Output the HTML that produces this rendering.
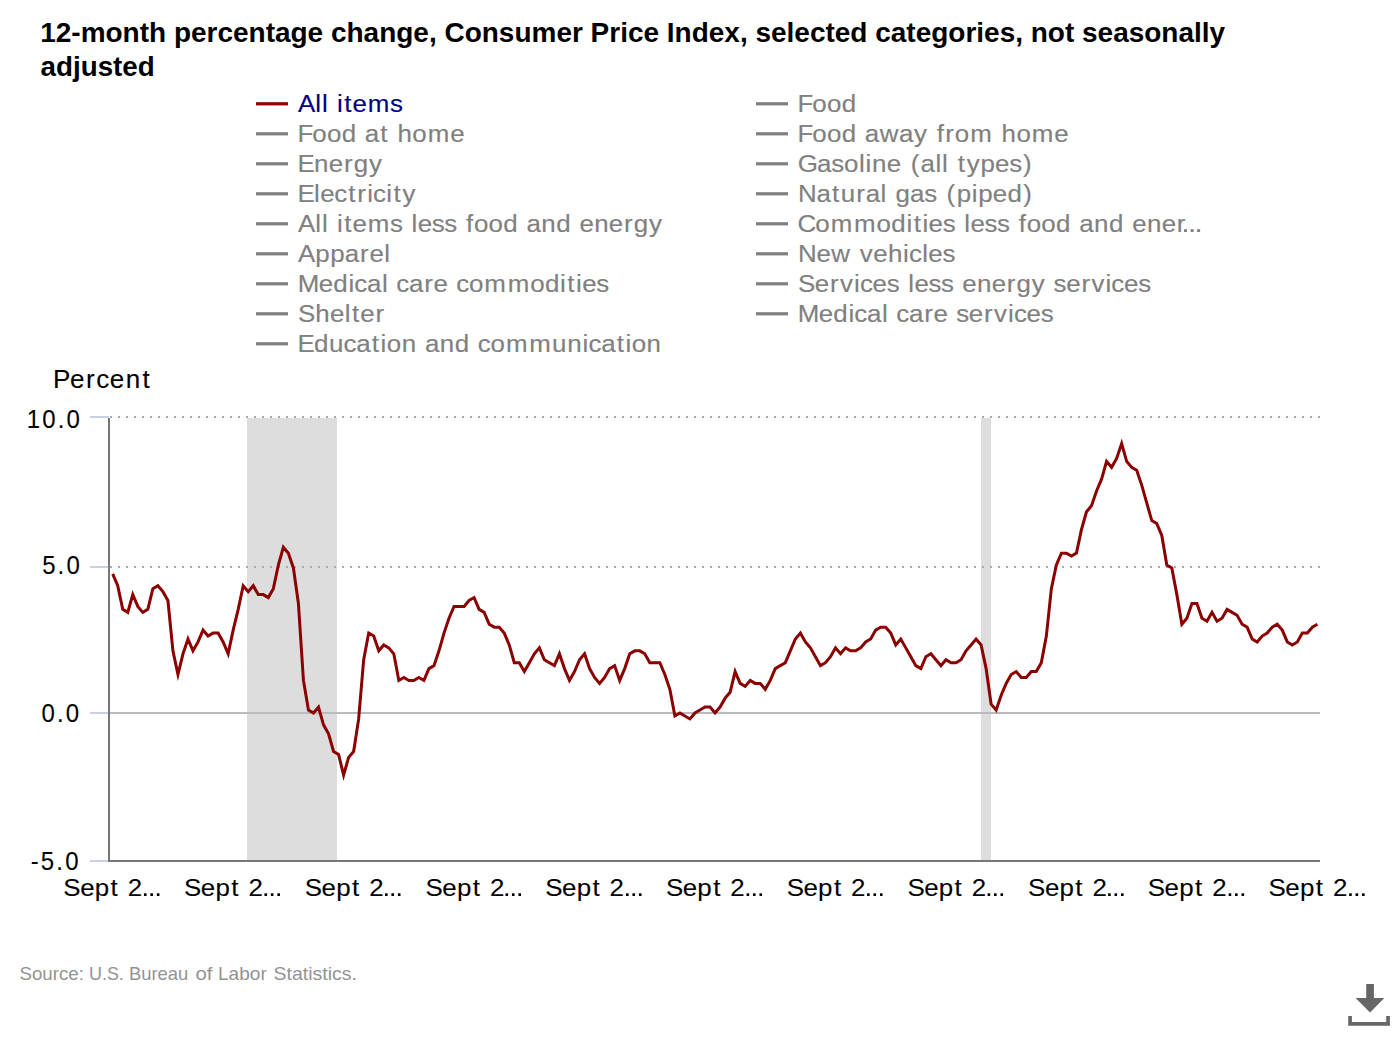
<!DOCTYPE html>
<html><head><meta charset="utf-8"><title>CPI chart</title>
<style>
html,body{margin:0;padding:0;background:#ffffff;width:1400px;height:1040px;overflow:hidden}
svg{position:absolute;left:0;top:0;display:block}
text{font-family:"Liberation Sans",sans-serif;white-space:pre}
</style></head><body>
<svg width="1400" height="1040" viewBox="0 0 1400 1040">
<rect x="256" y="102.2" width="32" height="3.2" fill="#8b0000"/>
<rect x="756" y="102.2" width="32" height="3.2" fill="#808080"/>
<rect x="256" y="132.2" width="32" height="3.2" fill="#808080"/>
<rect x="756" y="132.2" width="32" height="3.2" fill="#808080"/>
<rect x="256" y="162.2" width="32" height="3.2" fill="#808080"/>
<rect x="756" y="162.2" width="32" height="3.2" fill="#808080"/>
<rect x="256" y="192.2" width="32" height="3.2" fill="#808080"/>
<rect x="756" y="192.2" width="32" height="3.2" fill="#808080"/>
<rect x="256" y="222.2" width="32" height="3.2" fill="#808080"/>
<rect x="756" y="222.2" width="32" height="3.2" fill="#808080"/>
<rect x="256" y="252.2" width="32" height="3.2" fill="#808080"/>
<rect x="756" y="252.2" width="32" height="3.2" fill="#808080"/>
<rect x="256" y="282.2" width="32" height="3.2" fill="#808080"/>
<rect x="756" y="282.2" width="32" height="3.2" fill="#808080"/>
<rect x="256" y="312.2" width="32" height="3.2" fill="#808080"/>
<rect x="756" y="312.2" width="32" height="3.2" fill="#808080"/>
<rect x="256" y="342.2" width="32" height="3.2" fill="#808080"/>
<rect x="143.95" y="893.3" width="2.6" height="2.7" fill="#000"/>
<rect x="150.35" y="893.3" width="2.6" height="2.7" fill="#000"/>
<rect x="156.85" y="893.3" width="2.6" height="2.7" fill="#000"/>
<rect x="264.47" y="893.3" width="2.6" height="2.7" fill="#000"/>
<rect x="270.87" y="893.3" width="2.6" height="2.7" fill="#000"/>
<rect x="277.37" y="893.3" width="2.6" height="2.7" fill="#000"/>
<rect x="384.99" y="893.3" width="2.6" height="2.7" fill="#000"/>
<rect x="391.39" y="893.3" width="2.6" height="2.7" fill="#000"/>
<rect x="397.89" y="893.3" width="2.6" height="2.7" fill="#000"/>
<rect x="505.51" y="893.3" width="2.6" height="2.7" fill="#000"/>
<rect x="511.91" y="893.3" width="2.6" height="2.7" fill="#000"/>
<rect x="518.41" y="893.3" width="2.6" height="2.7" fill="#000"/>
<rect x="626.03" y="893.3" width="2.6" height="2.7" fill="#000"/>
<rect x="632.43" y="893.3" width="2.6" height="2.7" fill="#000"/>
<rect x="638.93" y="893.3" width="2.6" height="2.7" fill="#000"/>
<rect x="746.55" y="893.3" width="2.6" height="2.7" fill="#000"/>
<rect x="752.95" y="893.3" width="2.6" height="2.7" fill="#000"/>
<rect x="759.45" y="893.3" width="2.6" height="2.7" fill="#000"/>
<rect x="867.07" y="893.3" width="2.6" height="2.7" fill="#000"/>
<rect x="873.47" y="893.3" width="2.6" height="2.7" fill="#000"/>
<rect x="879.97" y="893.3" width="2.6" height="2.7" fill="#000"/>
<rect x="987.59" y="893.3" width="2.6" height="2.7" fill="#000"/>
<rect x="993.99" y="893.3" width="2.6" height="2.7" fill="#000"/>
<rect x="1000.49" y="893.3" width="2.6" height="2.7" fill="#000"/>
<rect x="1108.11" y="893.3" width="2.6" height="2.7" fill="#000"/>
<rect x="1114.51" y="893.3" width="2.6" height="2.7" fill="#000"/>
<rect x="1121.01" y="893.3" width="2.6" height="2.7" fill="#000"/>
<rect x="1228.63" y="893.3" width="2.6" height="2.7" fill="#000"/>
<rect x="1235.03" y="893.3" width="2.6" height="2.7" fill="#000"/>
<rect x="1241.53" y="893.3" width="2.6" height="2.7" fill="#000"/>
<rect x="1349.15" y="893.3" width="2.6" height="2.7" fill="#000"/>
<rect x="1355.55" y="893.3" width="2.6" height="2.7" fill="#000"/>
<rect x="1362.05" y="893.3" width="2.6" height="2.7" fill="#000"/>
<rect x="1184" y="229.2" width="3" height="2.8" fill="#808080"/>
<rect x="1190.6" y="229.2" width="3" height="2.8" fill="#808080"/>
<rect x="1197.1" y="229.2" width="3" height="2.8" fill="#808080"/>
<rect x="247" y="418" width="90" height="442" fill="#dddddd"/>
<rect x="981" y="418" width="10" height="442" fill="#dddddd"/>
<rect x="90" y="416" width="19" height="2" fill="#c5d1e7"/>
<rect x="90" y="566" width="19" height="2" fill="#c5d1e7"/>
<rect x="90" y="712" width="19" height="2" fill="#c5d1e7"/>
<rect x="90" y="860" width="19" height="2" fill="#c5d1e7"/>
<line x1="110" y1="417" x2="1321" y2="417" stroke="#aaaaaa" stroke-width="2" stroke-dasharray="2 6"/>
<line x1="110" y1="567" x2="1321" y2="567" stroke="#aaaaaa" stroke-width="2" stroke-dasharray="2 6"/>
<rect x="110" y="712" width="1210" height="2" fill="#bbbbbb"/>
<rect x="108" y="418" width="2" height="444" fill="#777777"/>
<rect x="108" y="860" width="1212" height="2" fill="#777777"/>
<polyline points="112.70,573.88 117.72,585.72 122.74,609.40 127.76,612.36 132.78,594.60 137.80,606.44 142.82,612.36 147.84,609.40 152.86,588.68 157.88,585.72 162.90,591.64 167.92,600.52 172.94,650.84 177.95,674.52 182.97,653.80 187.99,639.00 193.01,650.84 198.03,641.96 203.05,630.12 208.07,636.04 213.09,633.08 218.11,633.08 223.13,641.96 228.15,653.80 233.17,630.12 238.19,609.40 243.21,585.72 248.23,591.64 253.25,585.72 258.27,594.60 263.29,594.60 268.31,597.56 273.33,588.68 278.35,565.00 283.37,547.24 288.39,553.16 293.40,567.96 298.42,603.48 303.44,680.44 308.46,710.04 313.48,713.00 318.50,707.08 323.52,724.84 328.54,733.72 333.56,751.48 338.58,754.44 343.60,775.16 348.62,757.40 353.64,751.48 358.66,718.92 363.68,659.72 368.70,633.08 373.72,636.04 378.74,650.84 383.76,644.92 388.78,647.88 393.80,653.80 398.82,680.44 403.84,677.48 408.86,680.44 413.88,680.44 418.89,677.48 423.91,680.44 428.93,668.60 433.95,665.64 438.97,650.84 443.99,633.08 449.01,618.28 454.03,606.44 459.05,606.44 464.07,606.44 469.09,600.52 474.11,597.56 479.13,609.40 484.15,612.36 489.17,624.20 494.19,627.16 499.21,627.16 504.23,633.08 509.25,644.92 514.27,662.68 519.29,662.68 524.31,671.56 529.33,662.68 534.35,653.80 539.36,647.88 544.38,659.72 549.40,662.68 554.42,665.64 559.44,653.80 564.46,668.60 569.48,680.44 574.50,671.56 579.52,659.72 584.54,653.80 589.56,668.60 594.58,677.48 599.60,683.40 604.62,677.48 609.64,668.60 614.66,665.64 619.68,680.44 624.70,668.60 629.72,653.80 634.74,650.84 639.76,650.84 644.78,653.80 649.80,662.68 654.82,662.68 659.83,662.68 664.85,674.52 669.87,689.32 674.89,715.96 679.91,713.00 684.93,715.96 689.95,718.92 694.97,713.00 699.99,710.04 705.01,707.08 710.03,707.08 715.05,713.00 720.07,707.08 725.09,698.20 730.11,692.28 735.13,671.56 740.15,683.40 745.17,686.36 750.19,680.44 755.21,683.40 760.23,683.40 765.25,689.32 770.27,680.44 775.29,668.60 780.30,665.64 785.32,662.68 790.34,650.84 795.36,639.00 800.38,633.08 805.40,641.96 810.42,647.88 815.44,656.76 820.46,665.64 825.48,662.68 830.50,656.76 835.52,647.88 840.54,653.80 845.56,647.88 850.58,650.84 855.60,650.84 860.62,647.88 865.64,641.96 870.66,639.00 875.68,630.12 880.70,627.16 885.72,627.16 890.74,633.08 895.75,644.92 900.77,639.00 905.79,647.88 910.81,656.76 915.83,665.64 920.85,668.60 925.87,656.76 930.89,653.80 935.91,659.72 940.93,665.64 945.95,659.72 950.97,662.68 955.99,662.68 961.01,659.72 966.03,650.84 971.05,644.92 976.07,639.00 981.09,644.92 986.11,668.60 991.13,704.12 996.15,710.04 1001.17,695.24 1006.19,683.40 1011.21,674.52 1016.23,671.56 1021.24,677.48 1026.26,677.48 1031.28,671.56 1036.30,671.56 1041.32,662.68 1046.34,636.04 1051.36,588.68 1056.38,565.00 1061.40,553.16 1066.42,553.16 1071.44,556.12 1076.46,553.16 1081.48,529.48 1086.50,511.72 1091.52,505.80 1096.54,491.00 1101.56,479.16 1106.58,461.40 1111.60,467.32 1116.62,458.44 1121.64,443.64 1126.66,461.40 1131.68,467.32 1136.69,470.28 1141.71,485.08 1146.73,502.84 1151.75,520.60 1156.77,523.56 1161.79,535.40 1166.81,565.00 1171.83,567.96 1176.85,594.60 1181.87,624.20 1186.89,618.28 1191.91,603.48 1196.93,603.48 1201.95,618.28 1206.97,621.24 1211.99,612.36 1217.01,621.24 1222.03,618.28 1227.05,609.40 1232.07,612.36 1237.09,615.32 1242.11,624.20 1247.13,627.16 1252.15,639.00 1257.16,641.96 1262.18,636.04 1267.20,633.08 1272.22,627.16 1277.24,624.20 1282.26,630.12 1287.28,641.96 1292.30,644.92 1297.32,641.96 1302.34,633.08 1307.36,633.08 1312.38,627.16 1317.40,624.20" fill="none" stroke="#8b0000" stroke-width="3" stroke-linejoin="miter" stroke-miterlimit="10"/>
<text x="40.20" y="42" font-size="28" fill="#000" font-weight="bold" textLength="1184.94" lengthAdjust="spacingAndGlyphs">12-month percentage change, Consumer Price Index, selected categories, not seasonally</text>
<text x="40.60" y="76" font-size="28" fill="#000" font-weight="bold" textLength="114.16" lengthAdjust="spacingAndGlyphs">adjusted</text>
<g transform="translate(54.00,0) scale(1.0,1) translate(-54.00,0)"><text x="53.11 70.01 86.10 96.16 109.83 125.68 142.55" y="388" font-size="26" fill="#000" stroke="#000" stroke-width="0.1">Percent</text></g>
<g transform="translate(25.80,0) scale(0.96,1) translate(-25.80,0)"><text x="26.89 42.99 59.12 68.29" y="428" font-size="25" fill="#000" stroke="#000" stroke-width="0.1">10.0</text></g>
<g transform="translate(41.10,0) scale(0.96,1) translate(-41.10,0)"><text x="42.19 58.32 67.49" y="574" font-size="25" fill="#000" stroke="#000" stroke-width="0.1">5.0</text></g>
<g transform="translate(40.50,0) scale(0.96,1) translate(-40.50,0)"><text x="41.59 57.72 66.89" y="722" font-size="25" fill="#000" stroke="#000" stroke-width="0.1">0.0</text></g>
<g transform="translate(29.60,0) scale(0.96,1) translate(-29.60,0)"><text x="30.76 41.34 57.46 66.64" y="870" font-size="25" fill="#000" stroke="#000" stroke-width="0.1">-5.0</text></g>
<g transform="translate(63.80,0) scale(1.08,1) translate(-63.80,0)"><text x="63.39 78.93 92.47 107.11 115.39 123.02" y="896" font-size="24" fill="#000" stroke="#000" stroke-width="0.1">Sept 2</text></g>
<g transform="translate(184.52,0) scale(1.08,1) translate(-184.52,0)"><text x="184.11 199.65 213.19 227.83 236.11 243.74" y="896" font-size="24" fill="#000" stroke="#000" stroke-width="0.1">Sept 2</text></g>
<g transform="translate(305.24,0) scale(1.08,1) translate(-305.24,0)"><text x="304.83 320.37 333.91 348.55 356.83 364.46" y="896" font-size="24" fill="#000" stroke="#000" stroke-width="0.1">Sept 2</text></g>
<g transform="translate(425.96,0) scale(1.08,1) translate(-425.96,0)"><text x="425.55 441.09 454.63 469.27 477.55 485.18" y="896" font-size="24" fill="#000" stroke="#000" stroke-width="0.1">Sept 2</text></g>
<g transform="translate(545.68,0) scale(1.08,1) translate(-545.68,0)"><text x="545.27 560.81 574.35 588.99 597.27 604.90" y="896" font-size="24" fill="#000" stroke="#000" stroke-width="0.1">Sept 2</text></g>
<g transform="translate(666.40,0) scale(1.08,1) translate(-666.40,0)"><text x="665.99 681.53 695.07 709.71 717.99 725.62" y="896" font-size="24" fill="#000" stroke="#000" stroke-width="0.1">Sept 2</text></g>
<g transform="translate(787.12,0) scale(1.08,1) translate(-787.12,0)"><text x="786.71 802.25 815.79 830.43 838.71 846.34" y="896" font-size="24" fill="#000" stroke="#000" stroke-width="0.1">Sept 2</text></g>
<g transform="translate(907.84,0) scale(1.08,1) translate(-907.84,0)"><text x="907.43 922.97 936.51 951.15 959.43 967.06" y="896" font-size="24" fill="#000" stroke="#000" stroke-width="0.1">Sept 2</text></g>
<g transform="translate(1028.56,0) scale(1.08,1) translate(-1028.56,0)"><text x="1028.15 1043.69 1057.23 1071.87 1080.15 1087.78" y="896" font-size="24" fill="#000" stroke="#000" stroke-width="0.1">Sept 2</text></g>
<g transform="translate(1148.28,0) scale(1.08,1) translate(-1148.28,0)"><text x="1147.87 1163.41 1176.95 1191.59 1199.87 1207.50" y="896" font-size="24" fill="#000" stroke="#000" stroke-width="0.1">Sept 2</text></g>
<g transform="translate(1269.00,0) scale(1.08,1) translate(-1269.00,0)"><text x="1268.59 1284.13 1297.67 1312.31 1320.59 1328.22" y="896" font-size="24" fill="#000" stroke="#000" stroke-width="0.1">Sept 2</text></g>
<text x="19.50" y="980" font-size="18.2" fill="#939393" textLength="64.36" lengthAdjust="spacingAndGlyphs">Source:</text>
<text x="89.00" y="980" font-size="18.2" fill="#939393" textLength="34.85" lengthAdjust="spacingAndGlyphs">U.S.</text>
<text x="129.00" y="980" font-size="18.2" fill="#939393" textLength="59.28" lengthAdjust="spacingAndGlyphs">Bureau</text>
<text x="195.50" y="980" font-size="18.2" fill="#939393" textLength="17.01" lengthAdjust="spacingAndGlyphs">of</text>
<text x="218.00" y="980" font-size="18.2" fill="#939393" textLength="48.79" lengthAdjust="spacingAndGlyphs">Labor</text>
<text x="273.50" y="980" font-size="18.2" fill="#939393" textLength="83.38" lengthAdjust="spacingAndGlyphs">Statistics.</text>
<g transform="translate(298.50,0) scale(1.08,1) translate(-298.50,0)"><text x="298.10 314.08 320.18 326.47 334.09 340.85 348.51 362.61 383.21" y="112" font-size="24" fill="#000080" stroke="#000080" stroke-width="0.15">All items</text></g>
<g transform="translate(798.50,0) scale(1.08,1) translate(-798.50,0)"><text x="797.56 811.35 824.84 838.51" y="112" font-size="24" fill="#808080" stroke="#808080" stroke-width="0.15">Food</text></g>
<g transform="translate(298.50,0) scale(1.08,1) translate(-298.50,0)"><text x="297.56 311.35 324.84 338.51 352.67 359.91 374.29 382.58 390.18 403.95 418.18 438.93" y="142" font-size="24" fill="#808080" stroke="#808080" stroke-width="0.15">Food at home</text></g>
<g transform="translate(798.50,0) scale(1.08,1) translate(-798.50,0)"><text x="797.56 811.35 824.84 838.51 852.67 859.91 873.77 891.63 905.52 918.65 926.48 934.48 943.29 957.51 978.89 986.49 1000.26 1014.49 1035.24" y="142" font-size="24" fill="#808080" stroke="#808080" stroke-width="0.15">Food away from home</text></g>
<g transform="translate(298.50,0) scale(1.08,1) translate(-298.50,0)"><text x="297.53 312.92 326.57 340.61 349.60 363.75" y="172" font-size="24" fill="#808080" stroke="#808080" stroke-width="0.15">Energy</text></g>
<g transform="translate(798.50,0) scale(1.08,1) translate(-798.50,0)"><text x="797.78 815.71 828.84 840.70 854.50 860.60 866.67 880.32 894.19 902.48 911.53 925.25 931.35 937.64 945.92 954.19 966.99 980.53 993.61 1006.46" y="172" font-size="24" fill="#808080" stroke="#808080" stroke-width="0.15">Gasoline (all types)</text></g>
<g transform="translate(298.50,0) scale(1.08,1) translate(-298.50,0)"><text x="297.53 312.95 318.61 331.69 344.52 352.98 362.10 367.60 379.77 386.53 394.80" y="202" font-size="24" fill="#808080" stroke="#808080" stroke-width="0.15">Electricity</text></g>
<g transform="translate(798.50,0) scale(1.08,1) translate(-798.50,0)"><text x="798.15 815.12 829.50 837.57 852.02 860.76 874.48 880.77 888.26 901.85 914.98 927.34 935.63 944.93 958.91 964.87 978.41 991.96 1006.61" y="202" font-size="24" fill="#808080" stroke="#808080" stroke-width="0.15">Natural gas (piped)</text></g>
<g transform="translate(298.50,0) scale(1.08,1) translate(-298.50,0)"><text x="298.10 314.08 320.18 326.47 334.09 340.85 348.51 362.61 383.21 395.57 403.19 408.85 421.93 433.51 445.87 453.70 461.03 474.51 488.18 502.35 509.58 523.28 537.24 551.41 558.59 572.24 585.89 599.93 608.92 623.07" y="232" font-size="24" fill="#808080" stroke="#808080" stroke-width="0.15">All items less food and energy</text></g>
<g transform="translate(798.50,0) scale(1.08,1) translate(-798.50,0)"><text x="797.60 814.10 828.33 849.94 870.81 884.48 898.46 905.22 913.31 918.97 932.06 944.42 952.04 957.70 970.78 982.36 994.72 1002.55 1009.88 1023.36 1037.03 1051.20 1058.43 1072.13 1086.09 1100.25 1107.44 1121.09 1134.74 1148.78" y="232" font-size="24" fill="#808080" stroke="#808080" stroke-width="0.15">Commodities less food and ener</text></g>
<g transform="translate(298.50,0) scale(1.08,1) translate(-298.50,0)"><text x="298.10 313.95 327.80 341.39 355.47 364.16 377.83" y="262" font-size="24" fill="#808080" stroke="#808080" stroke-width="0.15">Apparel</text></g>
<g transform="translate(798.50,0) scale(1.08,1) translate(-798.50,0)"><text x="798.15 815.07 828.89 847.31 855.11 867.61 881.26 895.35 900.85 913.02 918.68 931.76" y="262" font-size="24" fill="#808080" stroke="#808080" stroke-width="0.15">New vehicles</text></g>
<g transform="translate(298.50,0) scale(1.08,1) translate(-298.50,0)"><text x="297.87 317.18 330.73 344.71 350.21 361.99 375.72 382.00 389.03 400.82 414.90 423.59 437.45 444.48 456.34 470.57 492.18 513.06 526.72 540.70 547.46 555.56 561.22 574.30" y="292" font-size="24" fill="#808080" stroke="#808080" stroke-width="0.15">Medical care commodities</text></g>
<g transform="translate(798.50,0) scale(1.08,1) translate(-798.50,0)"><text x="798.09 813.63 827.66 836.96 849.89 855.40 867.13 880.21 892.57 900.20 905.86 918.94 930.52 942.88 950.06 963.71 977.36 991.40 1000.39 1014.54 1027.66 1034.69 1046.43 1060.47 1069.76 1082.69 1088.20 1099.93 1113.01" y="292" font-size="24" fill="#808080" stroke="#808080" stroke-width="0.15">Services less energy services</text></g>
<g transform="translate(298.50,0) scale(1.08,1) translate(-298.50,0)"><text x="298.09 314.04 327.69 341.36 348.12 355.78 369.82" y="322" font-size="24" fill="#808080" stroke="#808080" stroke-width="0.15">Shelter</text></g>
<g transform="translate(798.50,0) scale(1.08,1) translate(-798.50,0)"><text x="797.87 817.18 830.73 844.71 850.21 861.99 875.72 882.00 889.03 900.82 914.90 923.59 937.45 944.48 956.21 970.25 979.54 992.48 997.99 1009.72 1022.80" y="322" font-size="24" fill="#808080" stroke="#808080" stroke-width="0.15">Medical care services</text></g>
<g transform="translate(298.50,0) scale(1.08,1) translate(-298.50,0)"><text x="297.53 312.81 326.77 340.26 352.04 366.43 374.52 380.31 394.08 408.36 415.59 429.29 443.25 457.42 464.45 476.30 490.53 512.15 533.31 547.37 561.46 566.96 578.75 593.13 601.23 607.01 620.79" y="352" font-size="24" fill="#808080" stroke="#808080" stroke-width="0.15">Education and communication</text></g>
<g fill="#666666">
<rect x="1366.2" y="984" width="7.7" height="14.5"/>
<polygon points="1355.6,998 1384.4,998 1370,1012.4"/>
<path d="M1348.2,1016 h3.7 v6 h34.3 v-6 h3.7 v9.7 h-41.7 z"/>
</g>
</svg>
</body></html>
